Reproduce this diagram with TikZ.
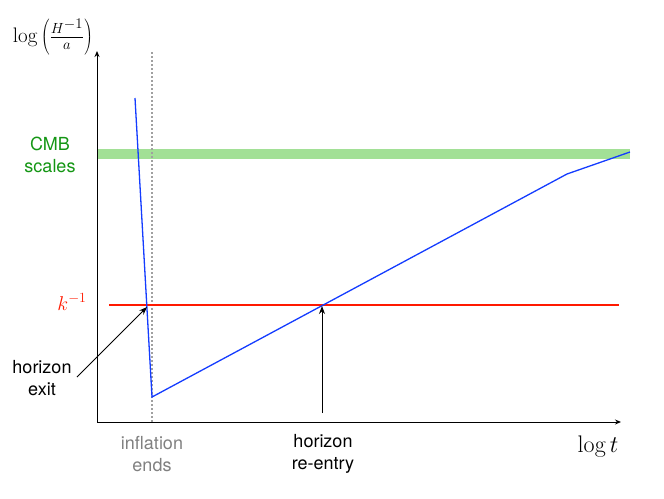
\documentclass[tikz,border=0pt]{standalone}
\usepackage{fix-cm}
\usepackage{fontspec}
\setsansfont{TeX Gyre Heros}
\usetikzlibrary{arrows.meta}
\definecolor{band}{RGB}{162,224,150}
\definecolor{cmbgreen}{RGB}{20,150,20}
\definecolor{bluel}{RGB}{20,60,255}
\definecolor{redl}{RGB}{255,25,0}
\definecolor{greyl}{RGB}{128,128,128}
\definecolor{dotgrey}{RGB}{160,160,160}
\begin{document}
\begin{tikzpicture}[x=1pt,y=-1pt,
  lbl/.style={font=\sffamily\fontsize{18}{22}\selectfont,align=center},
  axis/.style={line width=1pt,-{Stealth[length=6pt,width=5pt]}},
  pointer/.style={line width=1pt,-{Stealth[length=8pt,width=6pt]}}]
\useasboundingbox (0,0) rectangle (664,498);
% green band
\fill[band] (97,149) rectangle (630,159);
% dotted line
\coordinate (dtop) at (152,52);
\coordinate (dbot) at (152,422);
\draw[draw=dotgrey,line width=2.5pt,dash pattern=on 2pt off 2pt] (dtop) -- (dbot);
% axes
\coordinate (O) at (97,422);
\coordinate (ytop) at (97,51);
\coordinate (xend) at (621,422);
\draw[axis] (O) -- (ytop);
\draw[axis] (O) -- (xend);
% red line
\coordinate (r1) at (109,305);
\coordinate (r2) at (619,305);
\draw[draw=redl,line width=1.3pt] (r1) -- (r2);
% blue curve
\coordinate (b1) at (135,98);
\coordinate (b2) at (152,397);
\coordinate (b3) at (567,174);
\coordinate (b4) at (630,152);
\draw[draw=bluel,line width=1.3pt] (b1) -- (b2) -- (b3) -- (b4);
% labels
\node[font=\fontsize{21}{24}\selectfont] (ylab) at (53,37) {$\log\left(\frac{H^{\scriptstyle -1}}{a}\right)$};
\node[font=\fontsize{24}{26}\selectfont] (xlab) at (598,447) {$\log t$};
\node[lbl,text=cmbgreen] (cmb) at (50,155) {CMB\\scales};
\node[text=redl,font=\fontsize{20}{22}\selectfont] (k) at (72,302) {$k^{-1}$};
\node[lbl] (hexit) at (42,378) {horizon\\exit};
\node[lbl,text=greyl] (infl) at (152,454) {inflation\\ends};
\node[lbl] (hre) at (323,454) {horizon\\re-entry};
% pointers
\coordinate (ex1) at (77,377);
\coordinate (ex2) at (147,307);
\draw[pointer] (ex1) -- (ex2);
\coordinate (re1) at (322,413);
\coordinate (re2) at (322,306);
\draw[pointer] (re1) -- (re2);
\end{tikzpicture}
\end{document}
